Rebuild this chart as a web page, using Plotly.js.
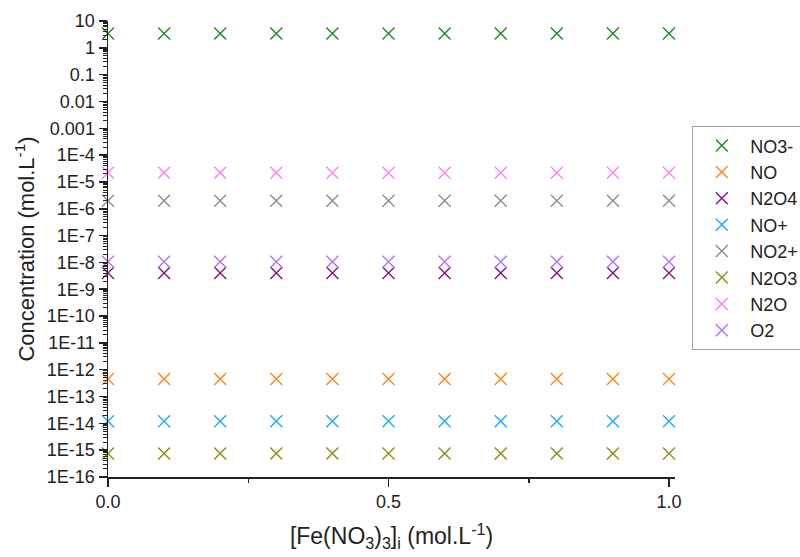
<!DOCTYPE html>
<html>
<head>
<meta charset="utf-8">
<script src="https://cdn.plot.ly/plotly-3.0.1.min.js"></script>
<style>html,body{margin:0;padding:0;background:#fff;}#chart{width:800px;height:557px;}</style>
</head>
<body>
<div id="chart"></div>
<script>
const xValues = [0, 0.1, 0.2, 0.3, 0.4, 0.5, 0.6, 0.7, 0.8, 0.9, 1.0];
const seriesNames = ["NO3-", "NO", "N2O4", "NO+", "NO2+", "N2O3", "N2O", "O2"];
const concNO3m = [3.4, 3.4, 3.4, 3.4, 3.4, 3.4, 3.4, 3.4, 3.4, 3.4, 3.4];
const concNO = [4.5e-13, 4.5e-13, 4.5e-13, 4.5e-13, 4.5e-13, 4.5e-13, 4.5e-13, 4.5e-13, 4.5e-13, 4.5e-13, 4.5e-13];
const concN2O4 = [4e-9, 4e-9, 4e-9, 4e-9, 4e-9, 4e-9, 4e-9, 4e-9, 4e-9, 4e-9, 4e-9];
const concNOp = [1.2e-14, 1.2e-14, 1.2e-14, 1.2e-14, 1.2e-14, 1.2e-14, 1.2e-14, 1.2e-14, 1.2e-14, 1.2e-14, 1.2e-14];
const concNO2p = [2e-6, 2e-6, 2e-6, 2e-6, 2e-6, 2e-6, 2e-6, 2e-6, 2e-6, 2e-6, 2e-6];
const concN2O3 = [7.5e-16, 7.5e-16, 7.5e-16, 7.5e-16, 7.5e-16, 7.5e-16, 7.5e-16, 7.5e-16, 7.5e-16, 7.5e-16, 7.5e-16];
const concN2O = [2.2e-5, 2.2e-5, 2.2e-5, 2.2e-5, 2.2e-5, 2.2e-5, 2.2e-5, 2.2e-5, 2.2e-5, 2.2e-5, 2.2e-5];
const concO2 = [1.05e-8, 1.05e-8, 1.05e-8, 1.05e-8, 1.05e-8, 1.05e-8, 1.05e-8, 1.05e-8, 1.05e-8, 1.05e-8, 1.05e-8];
const seriesValues = [concNO3m, concNO, concN2O4, concNOp, concNO2p, concN2O3, concN2O, concO2];
const seriesColors = ["#1a8c1a", "#ff8419", "#850f85", "#1eaaff", "#8c8c8c", "#8c8c14", "#ff80ff", "#b072ff"];
const yTickVals = [1e-16,1e-15,1e-14,1e-13,1e-12,1e-11,1e-10,1e-9,1e-8,1e-7,1e-6,1e-5,1e-4,1e-3,1e-2,1e-1,1,10];
const yTickText = ["1E-16","1E-15","1E-14","1E-13","1E-12","1E-11","1E-10","1E-9","1E-8","1E-7","1E-6","1E-5","1E-4","0.001","0.01","0.1","1","10"];
const xTickVals = [0, 0.5, 1.0];
const xTickText = ["0.0", "0.5", "1.0"];

const traces = seriesNames.map((name, i) => ({
  x: xValues,
  y: seriesValues[i],
  name: name,
  type: 'scatter',
  mode: 'markers',
  cliponaxis: false,
  marker: {symbol: 'x-thin-open', size: 12, color: seriesColors[i], line: {color: seriesColors[i], width: 1.4}}
}));

const layout = {
  width: 800, height: 557,
  paper_bgcolor: '#fff', plot_bgcolor: '#fff',
  font: {family: 'Arial, "Liberation Sans", sans-serif', color: '#222'},
  margin: {l: 108, r: 125, t: 21, b: 80, autoexpand: false},
  showlegend: true,
  legend: {
    xref: 'paper', yref: 'paper',
    font: {size: 18, color: '#222'},
    bordercolor: '#a0a0a0', borderwidth: 1.3,
    bgcolor: '#fff', xanchor: 'left', yanchor: 'top',
    itemwidth: 47
  },
  xaxis: {
    range: [0, 1.0107], showgrid: false, zeroline: false,
    showline: true, linecolor: '#222', linewidth: 1.5,
    tickmode: 'array', tickvals: xTickVals, ticktext: xTickText,
    ticks: 'outside', ticklen: 8, tickwidth: 1.5, tickcolor: '#222',
    tickfont: {size: 18},
    minor: {tickmode: 'array', tickvals: [0.25, 0.75], ticks: 'outside', ticklen: 4, tickwidth: 1.5, tickcolor: '#222'},
    title: {text: '[Fe(NO<sub>3</sub>)<sub>3</sub>]<sub>i</sub> (mol.L<sup>-1</sup>)', font: {size: 23}, standoff: 17}
  },
  yaxis: {
    type: 'log', range: [-16, 1], showgrid: false, zeroline: false,
    showline: true, linecolor: '#222', linewidth: 1.5,
    tickmode: 'array', tickvals: yTickVals, ticktext: yTickText,
    ticks: 'outside', ticklen: 8, tickwidth: 1.5, tickcolor: '#222',
    tickfont: {size: 18},
    minor: {dtick: 'D1', ticks: 'outside', ticklen: 4, tickwidth: 1, tickcolor: '#222'},
    title: {text: 'Concentration (mol.L<sup>-1</sup>)', font: {size: 22}, standoff: 6}
  }
};
// legend position in paper coords: plot area spans 108..675 px horizontally, 21..477 px vertically
layout.legend.x = (692 - 108) / (675 - 108);
layout.legend.y = (477 - 126) / (477 - 21);

Plotly.newPlot('chart', traces, layout, {displayModeBar: false, staticPlot: true});
</script>
</body>
</html>
